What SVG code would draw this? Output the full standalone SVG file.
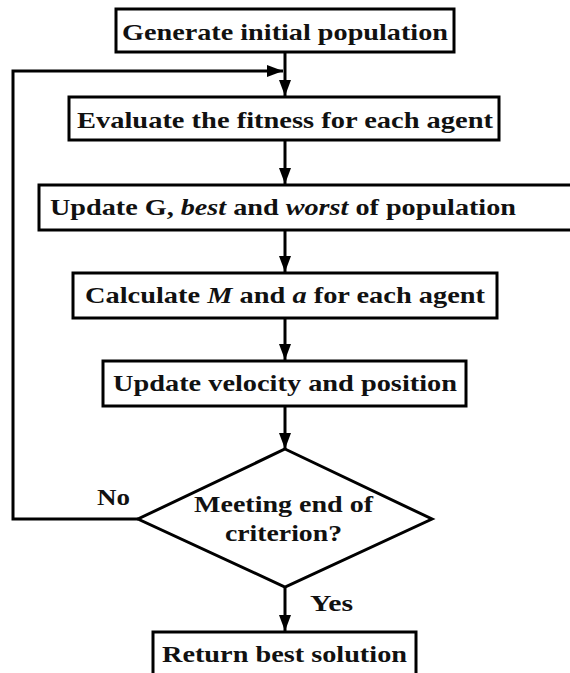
<svg xmlns="http://www.w3.org/2000/svg" width="570" height="673" viewBox="0 0 570 673">
<defs>
<marker id="ah" viewBox="0 0 16 12" refX="16" refY="6" markerWidth="16" markerHeight="12" markerUnits="userSpaceOnUse" orient="auto">
<path d="M0,0 L16,6 L0,12 Z" fill="#000"/>
</marker>
<style>
.box{fill:#fff;stroke:#000;stroke-width:3}
text{font-family:"Liberation Serif","Times New Roman",serif;font-weight:bold;font-size:24px;fill:#111}
.c{fill:none;stroke:#000;stroke-width:3}
</style>
</defs>
<rect width="570" height="673" fill="#fff"/>
<g id="connectors">
<line class="c" x1="285" y1="52" x2="285" y2="96" marker-end="url(#ah)"/>
<polyline class="c" points="138,519 13,519 13,71 283,71" marker-end="url(#ah)"/>
<line class="c" x1="285" y1="140" x2="285" y2="184" marker-end="url(#ah)"/>
<line class="c" x1="285" y1="230" x2="285" y2="272" marker-end="url(#ah)"/>
<line class="c" x1="285" y1="318" x2="285" y2="360" marker-end="url(#ah)"/>
<line class="c" x1="285" y1="406" x2="285" y2="449" marker-end="url(#ah)"/>
<line class="c" x1="285" y1="587" x2="285" y2="631" marker-end="url(#ah)"/>
</g>
<g id="n1"><rect class="box" x="116" y="9" width="338" height="43"/><text x="122" y="40" textLength="326" lengthAdjust="spacingAndGlyphs">Generate initial population</text></g>
<g id="n2"><rect class="box" x="69" y="97" width="430" height="43"/><text x="77" y="128" textLength="416" lengthAdjust="spacingAndGlyphs">Evaluate the fitness for each agent</text></g>
<g id="n3"><rect class="box" x="39" y="185" width="540" height="45"/><text x="50" y="215" textLength="466" lengthAdjust="spacingAndGlyphs">Update G, <tspan font-style="italic">best</tspan> and <tspan font-style="italic">worst</tspan> of population</text></g>
<g id="n4"><rect class="box" x="73" y="273" width="424" height="45"/><text x="85" y="303" textLength="400" lengthAdjust="spacingAndGlyphs">Calculate <tspan font-style="italic">M</tspan> and <tspan font-style="italic">a</tspan> for each agent</text></g>
<g id="n5"><rect class="box" x="103" y="361" width="363" height="45"/><text x="113" y="391" textLength="344" lengthAdjust="spacingAndGlyphs">Update velocity and position</text></g>
<g id="n6"><polygon class="box" points="285,449 432,519 285,587 138,519"/><text x="194" y="512" textLength="179" lengthAdjust="spacingAndGlyphs">Meeting end of</text><text x="225" y="541" textLength="117" lengthAdjust="spacingAndGlyphs">criterion?</text></g>
<g id="n7"><rect class="box" x="153" y="632" width="263" height="50"/><text x="162" y="662" textLength="245" lengthAdjust="spacingAndGlyphs">Return best solution</text></g>
<text x="97" y="505" textLength="33" lengthAdjust="spacingAndGlyphs">No</text>
<text x="310" y="611" textLength="43" lengthAdjust="spacingAndGlyphs">Yes</text>
</svg>
